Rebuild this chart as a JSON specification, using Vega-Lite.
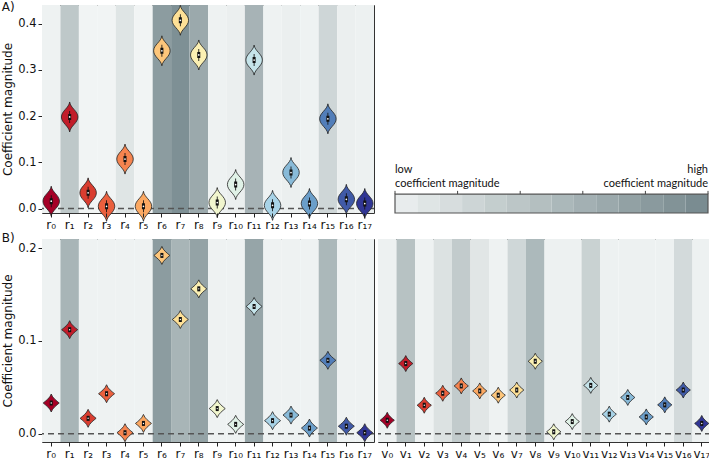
{
  "$schema": "https://vega.github.io/schema/vega-lite/v6.json",
  "padding": {"left": 1, "top": 0, "right": 1, "bottom": 1},
  "background": "white",
  "datasets": {
    "a": [
      {"var": "r₀", "i": 0, "shade": 0.02, "value": 0.016},
      {"var": "r₁", "i": 1, "shade": 0.41, "value": 0.198},
      {"var": "r₂", "i": 2, "shade": 0.0, "value": 0.034},
      {"var": "r₃", "i": 3, "shade": 0.0, "value": 0.005},
      {"var": "r₄", "i": 4, "shade": 0.14, "value": 0.107},
      {"var": "r₅", "i": 5, "shade": 0.0, "value": 0.005},
      {"var": "r₆", "i": 6, "shade": 0.84, "value": 0.341},
      {"var": "r₇", "i": 7, "shade": 0.96, "value": 0.407},
      {"var": "r₈", "i": 8, "shade": 0.71, "value": 0.332},
      {"var": "r₉", "i": 9, "shade": 0.02, "value": 0.013},
      {"var": "r₁₀", "i": 10, "shade": 0.05, "value": 0.052},
      {"var": "r₁₁", "i": 11, "shade": 0.61, "value": 0.321},
      {"var": "r₁₂", "i": 12, "shade": 0.02, "value": 0.007},
      {"var": "r₁₃", "i": 13, "shade": 0.05, "value": 0.078},
      {"var": "r₁₄", "i": 14, "shade": 0.02, "value": 0.011},
      {"var": "r₁₅", "i": 15, "shade": 0.28, "value": 0.194},
      {"var": "r₁₆", "i": 16, "shade": 0.05, "value": 0.020},
      {"var": "r₁₇", "i": 17, "shade": 0.03, "value": 0.011}
    ],
    "bl": [
      {"var": "r₀", "i": 0, "shade": 0.02, "value": 0.033},
      {"var": "r₁", "i": 1, "shade": 0.6, "value": 0.112},
      {"var": "r₂", "i": 2, "shade": 0.02, "value": 0.0165},
      {"var": "r₃", "i": 3, "shade": 0.02, "value": 0.043},
      {"var": "r₄", "i": 4, "shade": 0.02, "value": 0.001},
      {"var": "r₅", "i": 5, "shade": 0.02, "value": 0.011},
      {"var": "r₆", "i": 6, "shade": 0.84, "value": 0.192},
      {"var": "r₇", "i": 7, "shade": 0.6, "value": 0.123},
      {"var": "r₈", "i": 8, "shade": 0.77, "value": 0.156},
      {"var": "r₉", "i": 9, "shade": 0.02, "value": 0.027},
      {"var": "r₁₀", "i": 10, "shade": 0.02, "value": 0.010},
      {"var": "r₁₁", "i": 11, "shade": 0.75, "value": 0.137},
      {"var": "r₁₂", "i": 12, "shade": 0.02, "value": 0.014},
      {"var": "r₁₃", "i": 13, "shade": 0.02, "value": 0.020},
      {"var": "r₁₄", "i": 14, "shade": 0.02, "value": 0.006},
      {"var": "r₁₅", "i": 15, "shade": 0.57, "value": 0.079},
      {"var": "r₁₆", "i": 16, "shade": 0.02, "value": 0.008},
      {"var": "r₁₇", "i": 17, "shade": 0.02, "value": 0.001}
    ],
    "br": [
      {"var": "v₀", "i": 0, "shade": 0.03, "value": 0.0144},
      {"var": "v₁", "i": 1, "shade": 0.47, "value": 0.0755},
      {"var": "v₂", "i": 2, "shade": 0.02, "value": 0.0306},
      {"var": "v₃", "i": 3, "shade": 0.17, "value": 0.0435},
      {"var": "v₄", "i": 4, "shade": 0.38, "value": 0.0514},
      {"var": "v₅", "i": 5, "shade": 0.13, "value": 0.046},
      {"var": "v₆", "i": 6, "shade": 0.02, "value": 0.0414},
      {"var": "v₇", "i": 7, "shade": 0.27, "value": 0.047},
      {"var": "v₈", "i": 8, "shade": 0.56, "value": 0.078},
      {"var": "v₉", "i": 9, "shade": 0.03, "value": 0.002},
      {"var": "v₁₀", "i": 10, "shade": 0.03, "value": 0.013},
      {"var": "v₁₁", "i": 11, "shade": 0.32, "value": 0.052},
      {"var": "v₁₂", "i": 12, "shade": 0.03, "value": 0.021},
      {"var": "v₁₃", "i": 13, "shade": 0.03, "value": 0.039},
      {"var": "v₁₄", "i": 14, "shade": 0.03, "value": 0.018},
      {"var": "v₁₅", "i": 15, "shade": 0.03, "value": 0.031},
      {"var": "v₁₆", "i": 16, "shade": 0.24, "value": 0.047},
      {"var": "v₁₇", "i": 17, "shade": 0.03, "value": 0.011}
    ],
    "cbar": [
      {"lo": 0, "hi": 1, "shade": 0.07},
      {"lo": 1, "hi": 2, "shade": 0.14},
      {"lo": 2, "hi": 3, "shade": 0.21},
      {"lo": 3, "hi": 4, "shade": 0.29},
      {"lo": 4, "hi": 5, "shade": 0.36},
      {"lo": 5, "hi": 6, "shade": 0.43},
      {"lo": 6, "hi": 7, "shade": 0.5},
      {"lo": 7, "hi": 8, "shade": 0.57},
      {"lo": 8, "hi": 9, "shade": 0.64},
      {"lo": 9, "hi": 10, "shade": 0.71},
      {"lo": 10, "hi": 11, "shade": 0.79},
      {"lo": 11, "hi": 12, "shade": 0.86},
      {"lo": 12, "hi": 13, "shade": 0.93},
      {"lo": 13, "hi": 14, "shade": 1.0}
    ],
    "cticks": [{"t": 0}, {"t": 2.8}, {"t": 5.6}, {"t": 8.4}, {"t": 11.2}, {"t": 14}],
    "zero": [{"z": 0}]
  },
  "vconcat": [
    {
      "spacing": 18,
      "hconcat": [
        {
          "width": 332,
          "height": 208,
          "title": {"text": "A)", "anchor": "start", "frame": "bounds", "fontSize": 12, "fontWeight": "normal", "offset": 0, "dy": 10, "color": "#111"},
          "layer": [
            {"data": {"name": "a"},
             "mark": {"type": "rect"},
             "encoding": {
               "x": {"field": "var", "type": "nominal", "sort": null, "title": null,
                     "scale": {"paddingInner": 0, "paddingOuter": 0},
                     "axis": {"labelAngle": 0, "labelFontSize": 12, "tickSize": 4, "labelPadding": 2}},
               "fill": {"field": "shade", "type": "quantitative", "scale": {"domain": [0, 1], "range": ["#f1f4f4", "#7a8c91"]}, "legend": null}}},
            {"data": {"name": "zero"},
             "mark": {"type": "rule", "strokeDash": [6, 4], "color": "#555", "strokeWidth": 1.5},
             "encoding": {"y": {"field": "z", "type": "quantitative"}}},
            {"data": {"name": "a"},
             "mark": {"type": "point", "shape": "M0,-1 C0.05,-0.6 0.55,-0.4 0.55,0 C0.55,0.4 0.05,0.6 0,1 C-0.05,0.6 -0.55,0.4 -0.55,0 C-0.55,-0.4 -0.05,-0.6 0,-1 Z", "filled": true, "size": 900, "stroke": "#222", "strokeWidth": 0.8, "opacity": 1},
             "encoding": {
               "x": {"field": "var", "type": "nominal", "sort": null},
               "y": {"field": "value", "type": "quantitative", "title": "Coefficient magnitude",
                     "scale": {"domain": [-0.0095, 0.44], "nice": false, "zero": false},
                     "axis": {"values": [0, 0.1, 0.2, 0.3, 0.4], "format": ".1f", "tickSize": 4, "titlePadding": 3}},
               "color": {"field": "i", "type": "quantitative", "scale": {"scheme": "redyellowblue", "domain": [0, 17]}, "legend": null}}},
            {"data": {"name": "a"},
             "mark": {"type": "point", "shape": "M-0.25,-0.5 L0.25,-0.5 L0.25,0.5 L-0.25,0.5 Z M-0.07,-1 L0.07,-1 L0.07,1 L-0.07,1 Z", "filled": true, "size": 144, "color": "#111", "opacity": 1},
             "encoding": {"x": {"field": "var", "type": "nominal", "sort": null}, "y": {"field": "value", "type": "quantitative"}}},
            {"data": {"name": "a"},
             "mark": {"type": "point", "shape": "circle", "filled": true, "size": 3, "color": "white", "opacity": 1},
             "encoding": {"x": {"field": "var", "type": "nominal", "sort": null}, "y": {"field": "value", "type": "quantitative"}}}
          ]
        },
        {
          "width": 313,
          "height": 208,
          "view": {"stroke": null},
          "layer": [
            {"data": {"name": "cbar"},
             "mark": {"type": "rect"},
             "encoding": {
               "x": {"field": "lo", "type": "quantitative", "scale": {"domain": [0, 14], "nice": false, "zero": false}, "axis": null},
               "x2": {"field": "hi"},
               "y": {"datum": 0, "type": "quantitative", "scale": {"domain": [0, 11], "nice": false, "zero": false}, "axis": null},
               "y2": {"datum": 1},
               "fill": {"field": "shade", "type": "quantitative", "scale": {"domain": [0, 1], "range": ["#f1f4f4", "#7a8c91"]}, "legend": null}}},
            {"data": {"name": "zero"},
             "mark": {"type": "rect", "fill": "transparent", "stroke": "#555", "strokeWidth": 1.2},
             "encoding": {
               "x": {"datum": 0, "type": "quantitative", "scale": {"domain": [0, 14], "nice": false, "zero": false}, "axis": null},
               "x2": {"datum": 14},
               "y": {"datum": 0, "type": "quantitative", "scale": {"domain": [0, 11], "nice": false, "zero": false}, "axis": null},
               "y2": {"datum": 1}}},
            {"data": {"name": "cticks"},
             "mark": {"type": "rule", "color": "#444", "strokeWidth": 1},
             "encoding": {
               "x": {"field": "t", "type": "quantitative", "scale": {"domain": [0, 14], "nice": false, "zero": false}, "axis": null},
               "y": {"datum": 1, "type": "quantitative", "scale": {"domain": [0, 11], "nice": false, "zero": false}, "axis": null},
               "y2": {"datum": 1.17}}},
            {"data": {"name": "zero"},
             "mark": {"type": "text", "text": "low", "font": "Lato", "fontSize": 11, "align": "left", "baseline": "middle", "color": "#111"},
             "encoding": {
               "x": {"datum": 0, "type": "quantitative", "scale": {"domain": [0, 14], "nice": false, "zero": false}, "axis": null},
               "y": {"datum": 2.3, "type": "quantitative", "scale": {"domain": [0, 11], "nice": false, "zero": false}, "axis": null}}},
            {"data": {"name": "zero"},
             "mark": {"type": "text", "text": "coefficient magnitude", "font": "Lato", "fontSize": 11, "align": "left", "baseline": "middle", "color": "#111"},
             "encoding": {
               "x": {"datum": 0, "type": "quantitative", "scale": {"domain": [0, 14], "nice": false, "zero": false}, "axis": null},
               "y": {"datum": 1.56, "type": "quantitative", "scale": {"domain": [0, 11], "nice": false, "zero": false}, "axis": null}}},
            {"data": {"name": "zero"},
             "mark": {"type": "text", "text": "high", "font": "Lato", "fontSize": 11, "align": "right", "baseline": "middle", "color": "#111"},
             "encoding": {
               "x": {"datum": 14, "type": "quantitative", "scale": {"domain": [0, 14], "nice": false, "zero": false}, "axis": null},
               "y": {"datum": 2.3, "type": "quantitative", "scale": {"domain": [0, 11], "nice": false, "zero": false}, "axis": null}}},
            {"data": {"name": "zero"},
             "mark": {"type": "text", "text": "coefficient magnitude", "font": "Lato", "fontSize": 11, "align": "right", "baseline": "middle", "color": "#111"},
             "encoding": {
               "x": {"datum": 14, "type": "quantitative", "scale": {"domain": [0, 14], "nice": false, "zero": false}, "axis": null},
               "y": {"datum": 1.56, "type": "quantitative", "scale": {"domain": [0, 11], "nice": false, "zero": false}, "axis": null}}}
          ]
        }
      ]
    },
    {
      "spacing": 0,
      "hconcat": [
        {
          "width": 332,
          "height": 203,
          "title": {"text": "B)", "anchor": "start", "frame": "bounds", "fontSize": 12, "fontWeight": "normal", "offset": 0, "dy": 6, "color": "#111"},
          "layer": [
            {"data": {"name": "bl"},
             "mark": {"type": "rect"},
             "encoding": {
               "x": {"field": "var", "type": "nominal", "sort": null, "title": null,
                     "scale": {"paddingInner": 0, "paddingOuter": 0},
                     "axis": {"labelAngle": 0, "labelFontSize": 12, "tickSize": 4, "labelPadding": 2}},
               "fill": {"field": "shade", "type": "quantitative", "scale": {"domain": [0, 1], "range": ["#f1f4f4", "#7a8c91"]}, "legend": null}}},
            {"data": {"name": "zero"},
             "mark": {"type": "rule", "strokeDash": [6, 4], "color": "#555", "strokeWidth": 1.5},
             "encoding": {"y": {"field": "z", "type": "quantitative"}}},
            {"data": {"name": "bl"},
             "mark": {"type": "point", "shape": "M0,-1 C0.15,-0.55 0.6,-0.25 0.89,0 C0.6,0.25 0.15,0.55 0,1 C-0.15,0.55 -0.6,0.25 -0.89,0 C-0.6,-0.25 -0.15,-0.55 0,-1 Z", "filled": true, "size": 324, "stroke": "#222", "strokeWidth": 0.8, "opacity": 1},
             "encoding": {
               "x": {"field": "var", "type": "nominal", "sort": null},
               "y": {"field": "value", "type": "quantitative", "title": "Coefficient magnitude",
                     "scale": {"domain": [-0.009, 0.2097], "nice": false, "zero": false},
                     "axis": {"values": [0, 0.1, 0.2], "format": ".1f", "tickSize": 4, "titlePadding": 3}},
               "color": {"field": "i", "type": "quantitative", "scale": {"scheme": "redyellowblue", "domain": [0, 17]}, "legend": null}}},
            {"data": {"name": "bl"},
             "mark": {"type": "point", "shape": "M-0.6,-1 L0.6,-1 L0.6,1 L-0.6,1 Z", "filled": true, "size": 25, "color": "#111", "opacity": 1},
             "encoding": {"x": {"field": "var", "type": "nominal", "sort": null}, "y": {"field": "value", "type": "quantitative"}}},
            {"data": {"name": "bl"},
             "mark": {"type": "point", "shape": "circle", "filled": true, "size": 2, "color": "white", "opacity": 1},
             "encoding": {"x": {"field": "var", "type": "nominal", "sort": null}, "y": {"field": "value", "type": "quantitative"}}}
          ]
        },
        {
          "width": 333,
          "height": 203,
          "layer": [
            {"data": {"name": "br"},
             "mark": {"type": "rect"},
             "encoding": {
               "x": {"field": "var", "type": "nominal", "sort": null, "title": null,
                     "scale": {"paddingInner": 0, "paddingOuter": 0},
                     "axis": {"labelAngle": 0, "labelFontSize": 12, "tickSize": 4, "labelPadding": 2}},
               "fill": {"field": "shade", "type": "quantitative", "scale": {"domain": [0, 1], "range": ["#f1f4f4", "#7a8c91"]}, "legend": null}}},
            {"data": {"name": "zero"},
             "mark": {"type": "rule", "strokeDash": [6, 4], "color": "#555", "strokeWidth": 1.5},
             "encoding": {"y": {"field": "z", "type": "quantitative", "axis": null}}},
            {"data": {"name": "br"},
             "mark": {"type": "point", "shape": "M0,-1 C0.15,-0.55 0.6,-0.25 0.89,0 C0.6,0.25 0.15,0.55 0,1 C-0.15,0.55 -0.6,0.25 -0.89,0 C-0.6,-0.25 -0.15,-0.55 0,-1 Z", "filled": true, "size": 256, "stroke": "#222", "strokeWidth": 0.8, "opacity": 1},
             "encoding": {
               "x": {"field": "var", "type": "nominal", "sort": null},
               "y": {"field": "value", "type": "quantitative",
                     "scale": {"domain": [-0.009, 0.2097], "nice": false, "zero": false},
                     "axis": null},
               "color": {"field": "i", "type": "quantitative", "scale": {"scheme": "redyellowblue", "domain": [0, 17]}, "legend": null}}},
            {"data": {"name": "br"},
             "mark": {"type": "point", "shape": "M-0.6,-1 L0.6,-1 L0.6,1 L-0.6,1 Z", "filled": true, "size": 25, "color": "#111", "opacity": 1},
             "encoding": {"x": {"field": "var", "type": "nominal", "sort": null}, "y": {"field": "value", "type": "quantitative", "axis": null}}},
            {"data": {"name": "br"},
             "mark": {"type": "point", "shape": "circle", "filled": true, "size": 2, "color": "white", "opacity": 1},
             "encoding": {"x": {"field": "var", "type": "nominal", "sort": null}, "y": {"field": "value", "type": "quantitative", "axis": null}}}
          ]
        }
      ]
    }
  ],
  "spacing": 0,
  "config": {
    "font": "DejaVu Sans",
    "view": {"stroke": "#333", "strokeWidth": 1},
    "axis": {"grid": false, "domain": false, "labelColor": "#111", "tickColor": "#222", "titleColor": "#111",
             "labelFont": "DejaVu Sans", "titleFont": "DejaVu Sans", "labelFontSize": 11.5, "titleFontSize": 12, "titleFontWeight": "normal"}
  }
}
